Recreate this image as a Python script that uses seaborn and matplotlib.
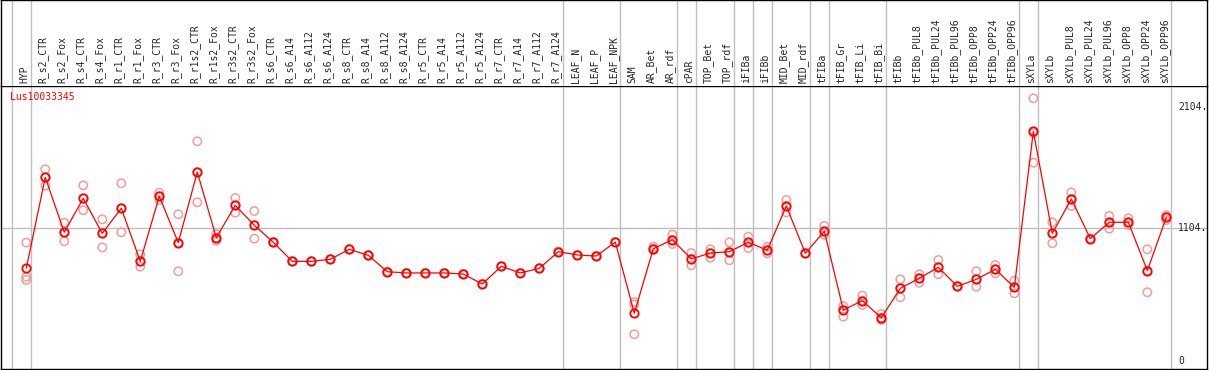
import numpy as np
import pandas as pd
import matplotlib
matplotlib.use('Agg')
import matplotlib.pyplot as plt
import matplotlib.transforms as mtrans
import seaborn as sns

# Категории (ткани / условия)
samples = ['HYP', 'R_s2_CTR', 'R_s2_Fox', 'R_s4_CTR', 'R_s4_Fox', 'R_r1_CTR', 'R_r1_Fox',
           'R_r3_CTR', 'R_r3_Fox', 'R_r1s2_CTR', 'R_r1s2_Fox', 'R_r3s2_CTR', 'R_r3s2_Fox',
           'R_s6_CTR', 'R_s6_A14', 'R_s6_A112', 'R_s6_A124', 'R_s8_CTR', 'R_s8_A14',
           'R_s8_A112', 'R_s8_A124', 'R_r5_CTR', 'R_r5_A14', 'R_r5_A112', 'R_r5_A124',
           'R_r7_CTR', 'R_r7_A14', 'R_r7_A112', 'R_r7_A124', 'LEAF_N', 'LEAF_P', 'LEAF_NPK',
           'SAM', 'AR_Bet', 'AR_rdf', 'cPAR', 'TOP_Bet', 'TOP_rdf', 'iFIBa', 'iFIBb',
           'MID_Bet', 'MID_rdf', 'tFIBa', 'tFIB_Gr', 'tFIB_Li', 'tFIB_Bi', 'tFIBb',
           'tFIBb_PUL8', 'tFIBb_PUL24', 'tFIBb_PUL96', 'tFIBb_OPP8', 'tFIBb_OPP24',
           'tFIBb_OPP96', 'sXYLa', 'sXYLb', 'sXYLb_PUL8', 'sXYLb_PUL24', 'sXYLb_PUL96',
           'sXYLb_OPP8', 'sXYLb_OPP24', 'sXYLb_OPP96']

# Среднее значение экспрессии
mean_expr = [770, 1524, 1069, 1350, 1060, 1268, 828, 1367, 983, 1568, 1024, 1292, 1127,
             986, 828, 828, 845, 928, 878, 742, 732, 732, 732, 723, 640, 787, 732, 770,
             908, 881, 872, 988, 398, 933, 1007, 848, 897, 908, 986, 920, 1287, 895,
             1077, 425, 502, 361, 605, 688, 779, 621, 679, 762, 613, 1905, 1060, 1345,
             1016, 1152, 1152, 751, 1193]

# Повторности
rep1 = [983, 1591, 1148, 1458, 1176, 1475, 886, 1397, 1218, 1823, 1055, 1353, 1245,
        986, 828, 828, 845, 928, 878, 742, 732, 732, 732, 723, 640, 787, 732, 770,
        908, 881, 872, 988, 491, 950, 1049, 897, 928, 986, 1032, 949, 1336, 895,
        1123, 458, 544, 392, 679, 721, 839, 621, 746, 798, 668, 2179, 1152, 1400,
        1016, 1204, 1185, 928, 1210]
rep2 = [674, 1455, 994, 1251, 944, 1069, 784, 1336, 746, 1317, 999, 1231, 1016,
        986, 828, 828, 845, 928, 878, 742, 732, 732, 732, 723, 640, 787, 732, 770,
        908, 881, 872, 988, 224, 925, 972, 795, 858, 837, 939, 895, 1234, 895,
        1049, 370, 466, 342, 530, 651, 721, 621, 618, 729, 563, 1645, 978, 1287,
        1016, 1099, 1129, 572, 1170]
rep3 = [700, 1524, 1069, 1350, 1060, 1268, 828, 1367, 983, 1568, 1024, 1292, 1127,
        986, 828, 828, 845, 928, 878, 742, 732, 732, 732, 723, 640, 787, 732, 770,
        908, 881, 872, 988, 470, 933, 1007, 848, 897, 908, 986, 920, 1287, 895,
        1077, 425, 502, 361, 605, 688, 779, 621, 679, 762, 613, 1890, 1060, 1345,
        1016, 1152, 1152, 751, 1193]

# Границы групп (после какого образца)
group_ends = [-1, 0, 28, 31, 34, 35, 37, 38, 39, 41, 42, 45, 52, 53, 60]
y_ticks = [0, 1104, 2104]

idx = np.arange(len(samples))
df_mean = pd.DataFrame({'idx': idx, 'value': mean_expr})
df_rep = pd.DataFrame({'idx': np.tile(idx, 3), 'value': rep1 + rep2 + rep3})

sns.set_style('white')
mono = 'DejaVu Sans Mono'

W, H = 1209, 370
fig = plt.figure(figsize=(W / 100, H / 100), dpi=100)
ax = fig.add_axes([1 / W, 1 / H, 1206 / W, 283 / H])
hdr = fig.add_axes([1 / W, 284 / H, 1206 / W, 86 / H], sharex=ax)

# Сетка: границы групп и уровень 1104
for g in group_ends:
    ax.axvline(g + 0.23, color='#c0c0c0', lw=1, zorder=0)
    hdr.axvline(g + 0.23, color='#c0c0c0', lw=1, zorder=0)
ax.axhline(1104, color='#c0c0c0', lw=1, zorder=0)

# Повторности и средние
sns.scatterplot(data=df_rep, x='idx', y='value', ax=ax, marker='o', s=36,
                facecolor='none', edgecolor='#f29c9c', linewidth=1.1, zorder=2)
sns.lineplot(data=df_mean, x='idx', y='value', ax=ax, color='red', lw=0.9,
             marker='o', markersize=6, markerfacecolor='none',
             markeredgecolor='red', markeredgewidth=1.3, zorder=3)

ax.set_xlim(-1.33, 62.14)
ax.set_ylim(-64, 2281)
ax.set_xticks([])
ax.set_yticks([])
ax.set_xlabel('')
ax.set_ylabel('')

# Подписи шкалы справа
trans = mtrans.blended_transform_factory(fig.transFigure, ax.transData)
for v in y_ticks:
    ax.text(1178 / W, v, f'{v}.' if v else '0', transform=trans, fontsize=7,
            family=mono, va='center', ha='left')

ax.text(9 / 1206, 1 - 11 / 283, 'Lus10033345', transform=ax.transAxes, color='red',
        fontsize=7, family=mono, va='center', ha='left')

# Заголовки столбцов
hdr.set_ylim(0, 1)
hdr.set_yticks([])
hdr.tick_params(bottom=False, labelbottom=False)
for i, name in enumerate(samples):
    hdr.text(i - 0.1, 3 / 86, name, rotation=90, fontsize=7, family=mono,
             ha='center', va='bottom', transform=hdr.get_xaxis_transform())

for a in (ax, hdr):
    for s in a.spines.values():
        s.set_color('black')
        s.set_linewidth(1)
hdr.spines['bottom'].set_visible(False)

fig.savefig('out.png', dpi=100)
